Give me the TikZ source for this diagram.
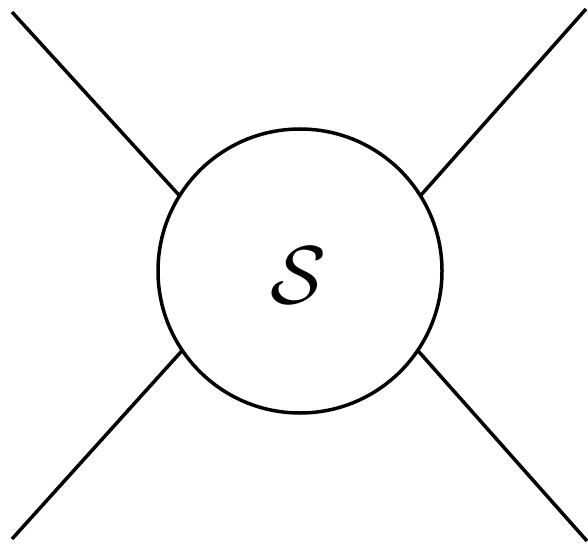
\documentclass[tikz,border=0pt]{standalone}
\tikzset{
  blob/.style={draw, circle, line width=3.5pt, minimum size=284pt, inner sep=0pt, outer sep=0pt},
  leg/.style={line width=3.5pt}
}
\begin{document}
\begin{tikzpicture}[x=1pt,y=-1pt]
\useasboundingbox (0,0) rectangle (588,545);
\node[blob] (c) at (300,271) {};
\node[scale=3.3] (s) at (298,275) {\Huge$\mathcal{S}$};
\coordinate (ul) at (12,12);
\coordinate (ur) at (586,9);
\coordinate (ll) at (12,539);
\coordinate (lr) at (587,541);
\draw[leg] (ul) -- (c.148);
\draw[leg] (ur) -- (c.32.5);
\draw[leg] (ll) -- (c.214);
\draw[leg] (lr) -- (c.326);
\end{tikzpicture}
\end{document}
